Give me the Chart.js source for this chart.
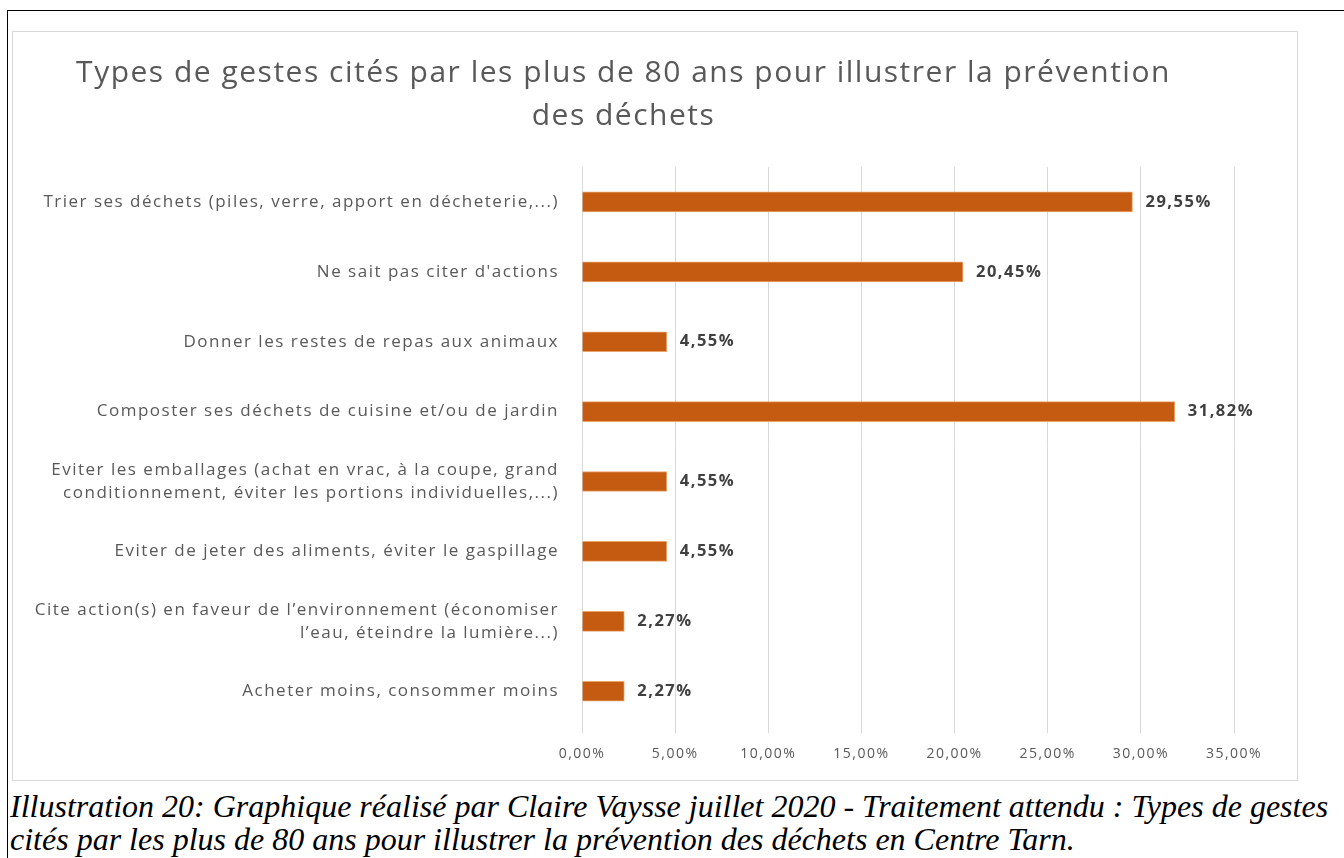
<!DOCTYPE html>
<html>
<head>
<meta charset="utf-8">
<script src="https://cdn.jsdelivr.net/npm/chart.js@4.4.1/dist/chart.umd.min.js"></script>
<style>
  body { margin: 0; background: #fff; width: 1344px; height: 858px; overflow: hidden; position: relative; }
  #cadre { position: absolute; left: 7px; top: 10px; width: 1337px; height: 848px; border-top: 1px solid #000; border-left: 1px solid #000; }
  #boite { position: absolute; left: 12px; top: 31px; width: 1284px; height: 748px; border: 1px solid #d9d9d9; }
  #legende { position: absolute; left: 10px; top: 790px; width: 1334px; font-family: "Liberation Serif", serif; font-style: italic; font-size: 32px; line-height: 33px; color: #000; white-space: nowrap; }
</style>
</head>
<body>
<div id="cadre"></div>
<div id="boite"><canvas id="grafico" width="1284" height="748"></canvas></div>
<div id="legende">Illustration 20: Graphique réalisé par Claire Vaysse juillet 2020 - Traitement attendu : Types de gestes<br>cités par les plus de 80 ans pour illustrer la prévention des déchets en Centre Tarn.</div>
<script>
// DONNEES
var titre = ['Types de gestes cités par les plus de 80 ans pour illustrer la prévention', 'des déchets'];
var categories = [
  'Trier ses déchets (piles, verre, apport en décheterie,...)',
  "Ne sait pas citer d'actions",
  'Donner les restes de repas aux animaux',
  'Composter ses déchets de cuisine et/ou de jardin',
  ['Eviter les emballages (achat en vrac, à la coupe, grand', 'conditionnement, éviter les portions individuelles,...)'],
  'Eviter de jeter des aliments, éviter le gaspillage',
  ['Cite action(s) en faveur de l\u2019environnement (économiser', 'l\u2019eau, éteindre la lumière...)'],
  'Acheter moins, consommer moins'
];
var valeurs = [29.55, 20.45, 4.55, 31.82, 4.55, 4.55, 2.27, 2.27];
var echelleMin = 0, echelleMax = 35, pas = 5;

function pourcent(v){
  return v.toFixed(2).replace('.', ',') + '%';
}

// espacement des lettres (le texte de l'original est large)
var espacement = {
  id: 'espacement',
  beforeDraw: function(chart){ chart.ctx.letterSpacing = '1.5px'; },
  afterDraw: function(chart){ chart.ctx.letterSpacing = '0px'; }
};

// etiquettes au bout des barres
var etiquettes = {
  id: 'etiquettes',
  afterDatasetsDraw: function(chart){
    var ctx = chart.ctx;
    var meta = chart.getDatasetMeta(0);
    ctx.save();
    ctx.font = 'bold 16.5px "Open Sans", sans-serif';
    ctx.fillStyle = '#404040';
    ctx.textAlign = 'left';
    ctx.textBaseline = 'middle';
    meta.data.forEach(function(bar, i){
      ctx.fillText(pourcent(valeurs[i]), bar.x + 13, bar.y);
    });
    ctx.restore();
  }
};

var ctx = document.getElementById('grafico');
var chart = new Chart(ctx, {
  type: 'bar',
  data: {
    labels: categories,
    datasets: [{
      data: valeurs,
      backgroundColor: '#c55a11',
      borderColor: '#e9a46a',
      borderWidth: 1,
      barThickness: 20
    }]
  },
  options: {
    indexAxis: 'y',
    responsive: false,
    animation: false,
    layout: { padding: { left: 0, right: 63, top: 0, bottom: 6 } },
    plugins: {
      legend: { display: false },
      tooltip: { enabled: false },
      title: {
        display: true,
        text: titre,
        color: '#595959',
        font: { family: '"Open Sans", sans-serif', size: 30, weight: 'normal', lineHeight: 1.433 },
        padding: { top: 20, bottom: 29 }
      }
    },
    scales: {
      x: {
        min: echelleMin,
        max: echelleMax,
        ticks: {
          stepSize: pas,
          color: '#595959',
          font: { family: '"Open Sans", sans-serif', size: 14 },
          padding: 12,
          callback: function(v){ return pourcent(v); }
        },
        grid: { color: '#d9d9d9', tickLength: 7, tickColor: '#d9d9d9' },
        border: { display: false }
      },
      y: {
        ticks: {
          color: '#595959',
          font: { family: '"Open Sans", sans-serif', size: 17, lineHeight: 1.35 },
          padding: 23
        },
        grid: { display: false, drawTicks: false },
        border: { display: false },
        afterFit: function(scale){ scale.width = 569; }
      }
    }
  },
  plugins: [espacement, etiquettes]
});
</script>
</body>
</html>
